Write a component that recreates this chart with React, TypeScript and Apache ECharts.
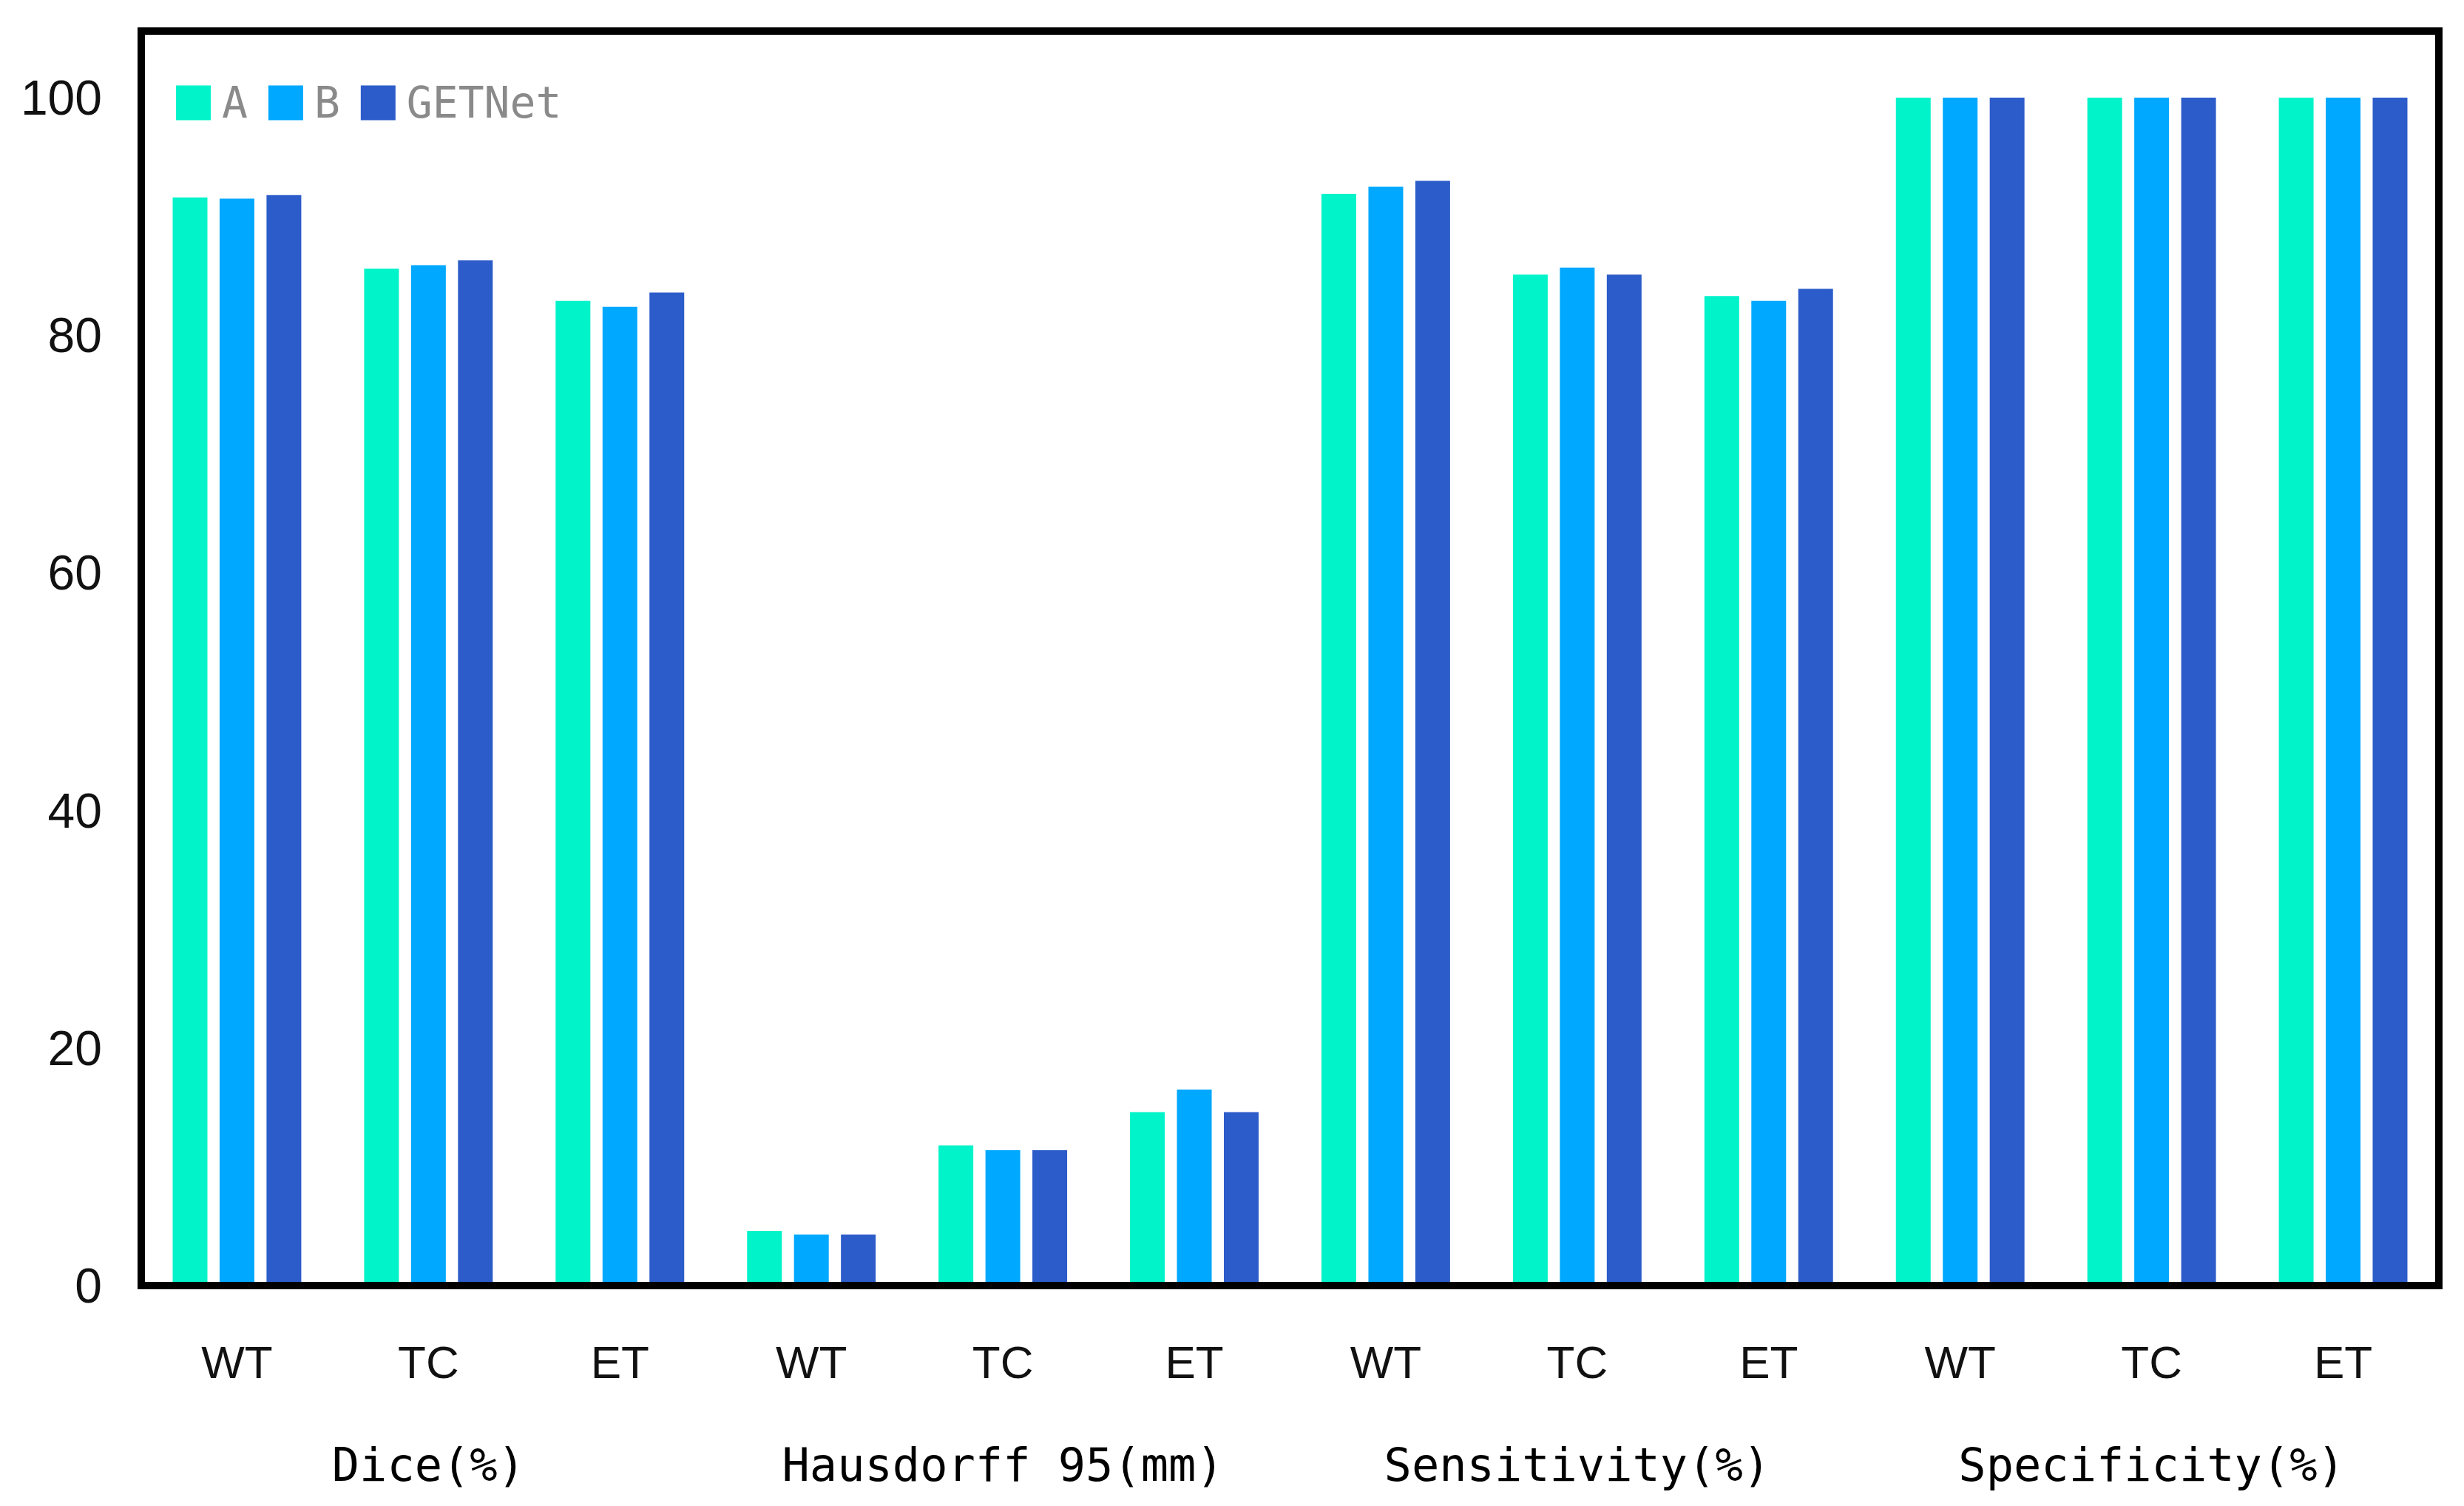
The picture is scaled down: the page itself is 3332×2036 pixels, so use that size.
import React, { useEffect, useRef } from "react";
import * as echarts from "echarts";

const categories = ["WT", "TC", "ET", "WT", "TC", "ET", "WT", "TC", "ET", "WT", "TC", "ET"];
const groups = ["Dice(%)", "Hausdorff 95(mm)", "Sensitivity(%)", "Specificity(%)"];
const seriesNames = ["A", "B", "GETNet"];
const valuesA = [91.6, 85.6, 82.9, 4.6, 11.8, 14.6, 91.9, 85.1, 83.3, 100, 100, 100];
const valuesB = [91.5, 85.9, 82.4, 4.3, 11.4, 16.5, 92.5, 85.7, 82.9, 100, 100, 100];
const valuesG = [91.8, 86.3, 83.6, 4.3, 11.4, 14.6, 93.0, 85.1, 83.9, 100, 100, 100];
const yTicks = { min: 0, max: 100, interval: 20 };

const colors = ["#00F3C9", "#00A8FF", "#2C5CC9"];

export default function App() {
  const ref = useRef<HTMLDivElement>(null);
  useEffect(() => {
    if (!ref.current) return;
    const chart = echarts.init(ref.current, null, { renderer: "svg" });
    const gridLeft = 191;
    const gridRight = 34;
    const gridTop = 132;
    const gridBottom = 298;
    const W = 3332;
    const H = 2036;
    const frameTop = 42;
    const mk = (name: string, data: number[], color: string) => ({
      name,
      type: "bar",
      data,
      barWidth: 47,
      barGap: "35%",
      itemStyle: { color },
      xAxisIndex: 0,
    });
    chart.setOption({
      animation: false,
      backgroundColor: "#ffffff",
      color: colors,
      legend: {
        left: 238,
        top: 110,
        padding: 0,
        icon: "rect",
        itemWidth: 47,
        itemHeight: 47,
        itemGap: 28,
        data: seriesNames,
        textStyle: {
          fontFamily: "DejaVu Sans Mono",
          fontSize: 58,
          color: "#8a8a8a",
          padding: [0, 0, 0, 10],
        },
      },
      grid: { left: gridLeft, right: gridRight, top: gridTop, bottom: gridBottom },
      xAxis: [
        {
          type: "category",
          data: categories,
          position: "bottom",
          axisLine: { show: false },
          axisTick: { show: false },
          axisLabel: {
            interval: 0,
            margin: 72,
            fontFamily: "Liberation Sans",
            fontSize: 62,
            color: "#111111",
          },
        },
        {
          type: "category",
          data: groups,
          position: "bottom",
          axisLine: { show: false },
          axisTick: { show: false },
          axisLabel: {
            interval: 0,
            margin: 211,
            fontFamily: "DejaVu Sans Mono",
            fontSize: 62,
            color: "#000000",
          },
        },
      ],
      yAxis: {
        type: "value",
        min: yTicks.min,
        max: yTicks.max,
        interval: yTicks.interval,
        axisLine: { show: false },
        axisTick: { show: false },
        splitLine: { show: false },
        axisLabel: {
          margin: 53,
          fontFamily: "Liberation Sans",
          fontSize: 66,
          color: "#111111",
        },
      },
      series: [
        mk(seriesNames[0], valuesA, colors[0]),
        mk(seriesNames[1], valuesB, colors[1]),
        mk(seriesNames[2], valuesG, colors[2]),
      ],
      graphic: [
        {
          type: "rect",
          z: 100,
          shape: {
            x: gridLeft,
            y: frameTop,
            width: W - gridLeft - gridRight,
            height: H - gridBottom - frameTop,
          },
          style: { fill: "none", stroke: "#000000", lineWidth: 10 },
        },
      ],
    });
    return () => chart.dispose();
  }, []);
  return (
    <div
      ref={ref}
      style={{ position: "fixed", left: 0, top: 0, width: 3332, height: 2036 }}
    />
  );
}
